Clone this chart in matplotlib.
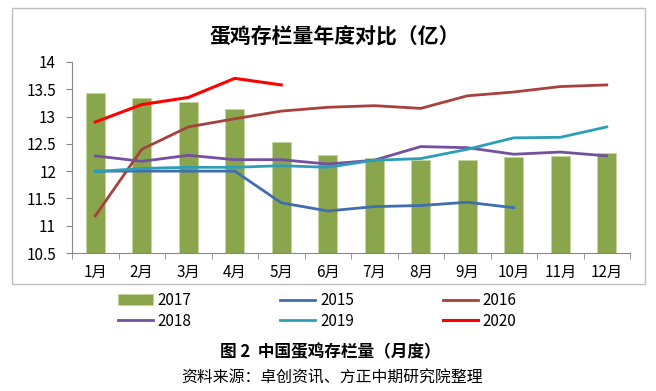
import matplotlib
matplotlib.use("Agg")
import matplotlib.pyplot as plt
from matplotlib.patches import Rectangle
import numpy as np

plt.rcParams['font.family'] = ['Noto Sans CJK SC', 'DejaVu Sans']

months = ["1月", "2月", "3月", "4月", "5月", "6月", "7月", "8月", "9月", "10月", "11月", "12月"]
y2017 = [13.44, 13.34, 13.27, 13.14, 12.54, 12.30, 12.24, 12.20, 12.21, 12.26, 12.28, 12.33]
y2015 = [12.00, 12.00, 12.00, 12.00, 11.42, 11.27, 11.35, 11.37, 11.43, 11.33]
y2016 = [11.18, 12.40, 12.81, 12.96, 13.10, 13.17, 13.20, 13.15, 13.38, 13.45, 13.55, 13.58]
y2018 = [12.28, 12.18, 12.29, 12.21, 12.21, 12.13, 12.20, 12.45, 12.43, 12.31, 12.35, 12.28]
y2019 = [11.99, 12.05, 12.07, 12.07, 12.10, 12.07, 12.20, 12.23, 12.40, 12.61, 12.62, 12.81]
y2020 = [12.90, 13.22, 13.35, 13.70, 13.58]
yticks = [10.5, 11, 11.5, 12, 12.5, 13, 13.5, 14]

fig = plt.figure(figsize=(6.56, 3.91), dpi=100)
fig.patches.append(Rectangle((12/656, 1-284/391), 633/656, 276/391, transform=fig.transFigure,
                             fill=False, edgecolor='#BFBFBF', lw=1))
ax = fig.add_axes([72/656, 138/391, 558/656, 191/391])
x = np.arange(len(months))
ax.bar(x, y2017, width=0.40, bottom=0, color='#8AA64C', edgecolor='#C5D6A0', lw=0.6, label='2017', zorder=2)
ax.plot(np.arange(len(y2015)), y2015, color='#3F6DB0', lw=2, label='2015', zorder=3)
ax.plot(x, y2016, color='#A8403D', lw=2, label='2016', zorder=3)
ax.plot(x, y2018, color='#7550A0', lw=2, label='2018', zorder=3)
ax.plot(x, y2019, color='#2E9EB8', lw=2, label='2019', zorder=3)
ax.plot(np.arange(len(y2020)), y2020, color='#FF0000', lw=2.2, label='2020', zorder=4)

ax.set_ylim(10.5, 14)
ax.set_xlim(-0.5, 11.5)
ax.set_yticks(yticks)
ax.set_yticklabels([f"{v:g}" for v in yticks], fontsize=11)
ax.set_xticks(x)
ax.set_xticklabels(months, fontsize=11)
ax.set_xticks(np.arange(-0.5, 12, 1), minor=True)
ax.tick_params(axis='x', which='major', length=0, pad=8)
ax.tick_params(axis='x', which='minor', length=4, color='#888888')
ax.tick_params(axis='y', length=4.5, color='#888888', pad=7)
for s in ['top', 'right']:
    ax.spines[s].set_visible(False)
for s in ['left', 'bottom']:
    ax.spines[s].set_color('#888888')

fig.text(335/656, 1-37/391, "蛋鸡存栏量年度对比（亿）", ha='center', va='center', fontsize=15, fontweight='bold')

h, l = ax.get_legend_handles_labels()
order = ['2017', '2018', '2015', '2019', '2016', '2020']
hd = dict(zip(l, h))
leg = fig.legend([hd[k] for k in order], order, loc='upper left', bbox_to_anchor=(118/656, 1-292/391),
                 ncol=3, frameon=False, fontsize=11, handlelength=2.3, columnspacing=5.8,
                 handletextpad=0.3, labelspacing=0.25, borderpad=0, borderaxespad=0)

fig.text(330/656, 1-352/391, "图 2  中国蛋鸡存栏量（月度）", ha='center', va='center', fontsize=12, fontweight='bold')
fig.text(332/656, 1-378/391, "资料来源：卓创资讯、方正中期研究院整理", ha='center', va='center', fontsize=11.4)

fig.savefig("out.png", dpi=100)
